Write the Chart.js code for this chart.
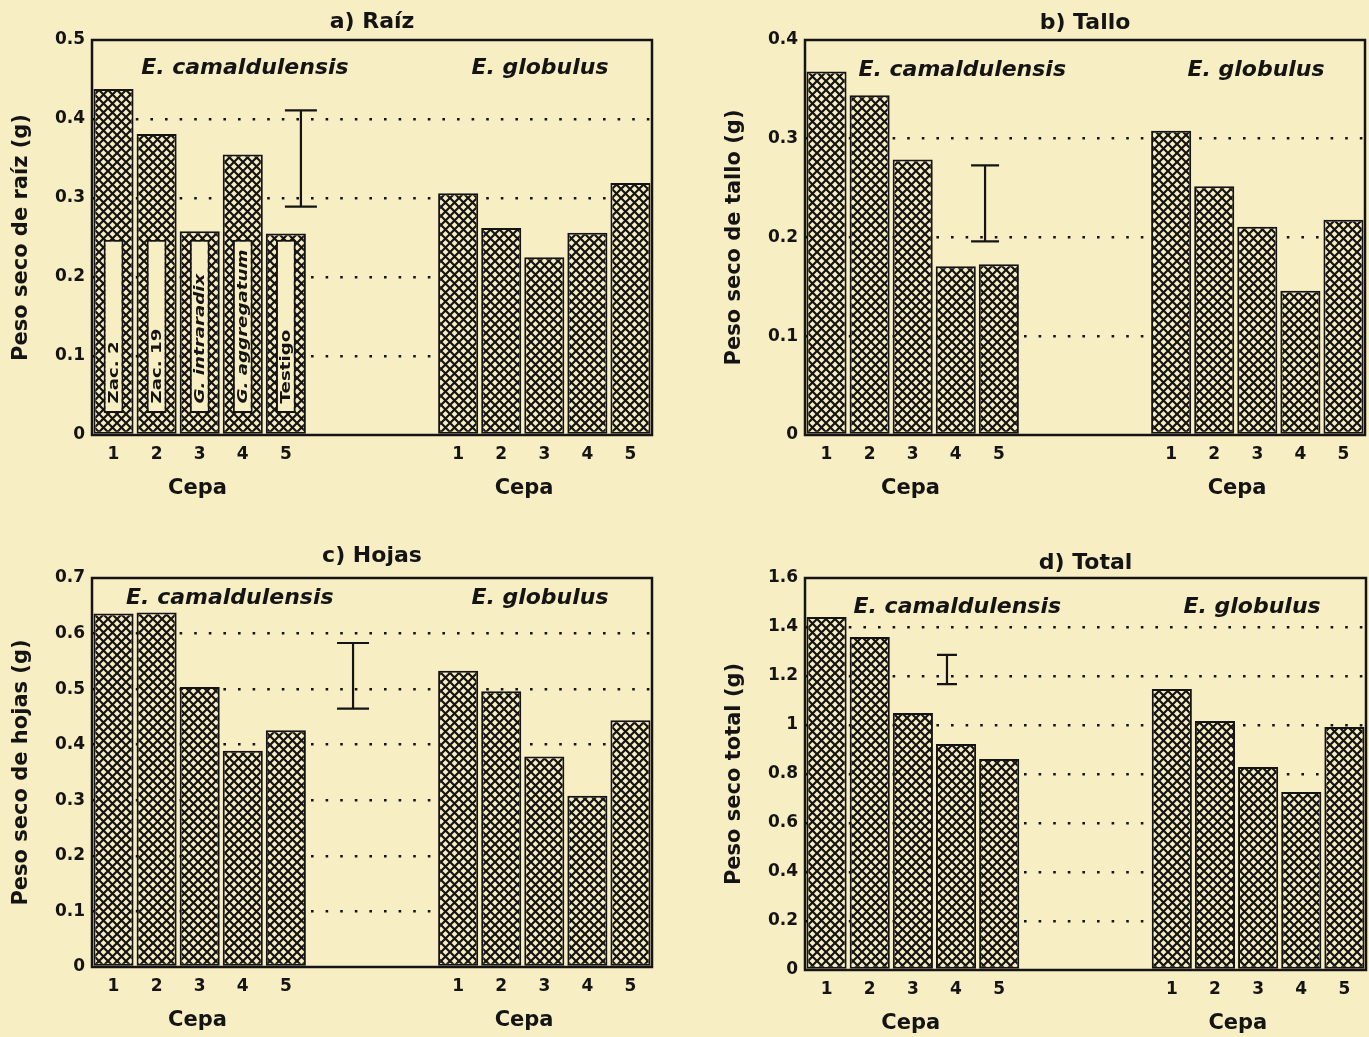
<!DOCTYPE html>
<html>
<head>
<meta charset="utf-8">
<script src="https://cdn.jsdelivr.net/npm/chart.js@4.4.1/dist/chart.umd.min.js"></script>
<style>
  body { margin: 0; background: #f8eec4; }
  #page { position: relative; width: 1369px; height: 1037px; overflow: hidden; background: #f8eec4; }
  .panel { position: absolute; }
</style>
</head>
<body>
<div id="page">
  <div class="panel" style="left:0;top:0;width:690px;height:520px"><canvas id="raiz"></canvas></div>
  <div class="panel" style="left:700px;top:0;width:669px;height:520px"><canvas id="tallo"></canvas></div>
  <div class="panel" style="left:0;top:520px;width:690px;height:517px"><canvas id="hojas"></canvas></div>
  <div class="panel" style="left:700px;top:520px;width:669px;height:517px"><canvas id="total"></canvas></div>
</div>
<script>
// datos (peso seco, g)
const cepaTicks = ['1', '2', '3', '4', '5'];
const cepaNames = ['Zac. 2', 'Zac. 19', 'G. intraradix', 'G. aggregatum', 'Testigo'];
const cepaItalic = [false, false, true, true, false];
const species = ['E. camaldulensis', 'E. globulus'];

const raizCam = [0.438, 0.381, 0.258, 0.355, 0.255];
const raizGlob = [0.306, 0.262, 0.225, 0.256, 0.319];
const talloCam = [0.368, 0.344, 0.279, 0.171, 0.173];
const talloGlob = [0.308, 0.252, 0.211, 0.146, 0.218];
const hojasCam = [0.636, 0.638, 0.504, 0.389, 0.426];
const hojasGlob = [0.533, 0.496, 0.379, 0.308, 0.444];
const totalCam = [1.441, 1.359, 1.049, 0.922, 0.861];
const totalGlob = [1.147, 1.016, 0.829, 0.727, 0.992];

// barras de diferencia mínima (bajo, alto)
const raizLSD = [0.289, 0.411];
const talloLSD = [0.196, 0.273];
const hojasLSD = [0.465, 0.583];
const totalLSD = [1.167, 1.286];

// recuadros con el nombre de la cepa (panel a)
const cepaBox = [0.028, 0.247];

const INK = '#141414';
const PAPER = '#f8eec4';
const FONT = '"DejaVu Sans", "Liberation Sans", sans-serif';
const GAP = 3;

function hatch() {
    const t = document.createElement('canvas');
    t.width = 9; t.height = 9;
    const c = t.getContext('2d');
    c.fillStyle = PAPER;
    c.fillRect(0, 0, 9, 9);
    c.strokeStyle = INK;
    c.lineWidth = 2.2;
    c.beginPath();
    c.moveTo(-1, -1); c.lineTo(10, 10);
    c.moveTo(10, -1); c.lineTo(-1, 10);
    c.stroke();
    return c.createPattern(t, 'repeat');
}

const decor = {
    id: 'decor',
    afterDatasetsDraw(chart) {
        const s = chart.options.plugins.decor;
        const ctx = chart.ctx;
        const { left, right, top, bottom } = chart.chartArea;
        const x = chart.scales.x, y = chart.scales.y;
        ctx.save();
        ctx.fillStyle = INK;
        ctx.strokeStyle = INK;

        // marco
        ctx.lineWidth = 2.5;
        ctx.strokeRect(left, top, right - left, bottom - top);

        // barra de error
        const ex = x.getPixelForValue(s.lsdPos);
        const y0 = y.getPixelForValue(s.lsd[0]), y1 = y.getPixelForValue(s.lsd[1]);
        ctx.lineWidth = 2.2;
        ctx.beginPath();
        ctx.moveTo(ex, y0); ctx.lineTo(ex, y1);
        ctx.moveTo(ex - s.lsdCap / 2, y0); ctx.lineTo(ex + s.lsdCap / 2, y0);
        ctx.moveTo(ex - s.lsdCap / 2, y1); ctx.lineTo(ex + s.lsdCap / 2, y1);
        ctx.stroke();

        // título del panel
        ctx.textAlign = 'center';
        ctx.textBaseline = 'middle';
        ctx.font = 'bold 22px ' + FONT;
        ctx.fillText(s.title, (left + right) / 2, top - s.titleGap);

        // "Cepa" bajo cada grupo
        ctx.font = 'bold 21px ' + FONT;
        ctx.fillText('Cepa', x.getPixelForValue(1.95), bottom + 54);
        ctx.fillText('Cepa', x.getPixelForValue(9.53), bottom + 54);

        // especies
        ctx.font = 'italic bold 22px ' + FONT;
        ctx.fillText(species[0], x.getPixelForValue(s.spX[0]), y.getPixelForValue(s.spY));
        ctx.fillText(species[1], x.getPixelForValue(s.spX[1]), y.getPixelForValue(s.spY));

        // nombres de cepa dentro de las barras
        if (s.names) {
            ctx.textAlign = 'left';
            cepaNames.forEach((n, i) => {
                ctx.save();
                ctx.translate(x.getPixelForValue(i) + 1, y.getPixelForValue(0.04));
                ctx.rotate(-Math.PI / 2);
                ctx.scale(1.3, 1);
                ctx.font = (cepaItalic[i] ? 'italic ' : '') + 'bold 14px ' + FONT;
                ctx.fillText(n, 0, 0);
                ctx.restore();
            });
        }
        ctx.restore();
    }
};

function panel(id, cam, glob, spec) {
    const ctx = document.getElementById(id).getContext('2d');
    const labels = cepaTicks.concat(Array(GAP).fill(''), cepaTicks);
    const datasets = [{
        data: cam.concat(Array(GAP).fill(null), glob),
        backgroundColor: hatch(),
        borderColor: INK,
        borderWidth: 2,
        borderSkipped: false,
        categoryPercentage: 1,
        barPercentage: 0.93,
        grouped: false,
        order: 1
    }];
    if (spec.names) {
        datasets.push({
            data: cam.map(() => cepaBox.slice()).concat(Array(GAP + glob.length).fill(null)),
            backgroundColor: PAPER,
            borderColor: INK,
            borderWidth: 2,
            borderSkipped: false,
            categoryPercentage: 1,
            barPercentage: 0.46,
            grouped: false,
            order: 0
        });
    }
    const max = spec.max;
    return new Chart(ctx, {
        type: 'bar',
        data: { labels, datasets },
        options: {
            responsive: true,
            maintainAspectRatio: false,
            animation: false,
            events: [],
            layout: { padding: { left: 0, top: spec.pad[1], right: spec.pad[2], bottom: 0 } },
            plugins: {
                legend: { display: false },
                tooltip: { enabled: false },
                title: { display: false },
                decor: spec
            },
            scales: {
                x: {
                    type: 'category',
                    offset: true,
                    grid: { display: false, drawTicks: false },
                    border: { display: false },
                    ticks: {
                        color: INK, padding: 9, autoSkip: false, maxRotation: 0,
                        font: { family: FONT, size: 17, weight: 'bold' }
                    },
                    afterFit: s => { s.height = spec.pad[3]; }
                },
                y: {
                    min: 0,
                    max: max,
                    grid: {
                        drawTicks: false,
                        lineWidth: 2.6,
                        color: c => (c.tick && (c.tick.value === 0 || Math.abs(c.tick.value - max) < 1e-9)) ? 'rgba(0,0,0,0)' : INK
                    },
                    border: { display: false, dash: [2.6, 12] },
                    ticks: {
                        stepSize: spec.step, color: INK, padding: 7,
                        font: { family: FONT, size: 17, weight: 'bold' },
                        callback: v => String(+v.toFixed(2))
                    },
                    title: {
                        display: true, text: spec.yTitle, color: INK,
                        font: { family: FONT, size: 21, weight: 'bold' },
                        padding: { top: spec.yTitlePad, bottom: 0 }
                    },
                    afterFit: s => { s.width = spec.pad[0]; }
                }
            }
        },
        plugins: [decor]
    });
}

panel('raiz', raizCam, raizGlob, {
    title: 'a) Raíz', titleGap: 18, max: 0.5, step: 0.1,
    yTitle: 'Peso seco de raíz (g)', yTitlePad: 9,
    pad: [92, 40, 38, 85],
    lsd: raizLSD, lsdPos: 4.35, lsdCap: 32,
    spX: [3.05, 9.9], spY: 0.464, names: true
});
panel('tallo', talloCam, talloGlob, {
    title: 'b) Tallo', titleGap: 17, max: 0.4, step: 0.1,
    yTitle: 'Peso seco de tallo (g)', yTitlePad: 22,
    pad: [105, 40, 4, 85],
    lsd: talloLSD, lsdPos: 3.68, lsdCap: 28,
    spX: [3.15, 9.97], spY: 0.369, names: false
});
panel('hojas', hojasCam, hojasGlob, {
    title: 'c) Hojas', titleGap: 22, max: 0.7, step: 0.1,
    yTitle: 'Peso seco de hojas (g)', yTitlePad: 9,
    pad: [92, 58, 38, 70],
    lsd: hojasLSD, lsdPos: 5.56, lsdCap: 32,
    spX: [2.7, 9.9], spY: 0.664, names: false
});
panel('total', totalCam, totalGlob, {
    title: 'd) Total', titleGap: 15, max: 1.6, step: 0.2,
    yTitle: 'Peso seco total (g)', yTitlePad: 22,
    pad: [105, 58, 3, 67],
    lsd: totalLSD, lsdPos: 2.79, lsdCap: 20,
    spX: [3.03, 9.86], spY: 1.48, names: false
});
</script>
</body>
</html>
